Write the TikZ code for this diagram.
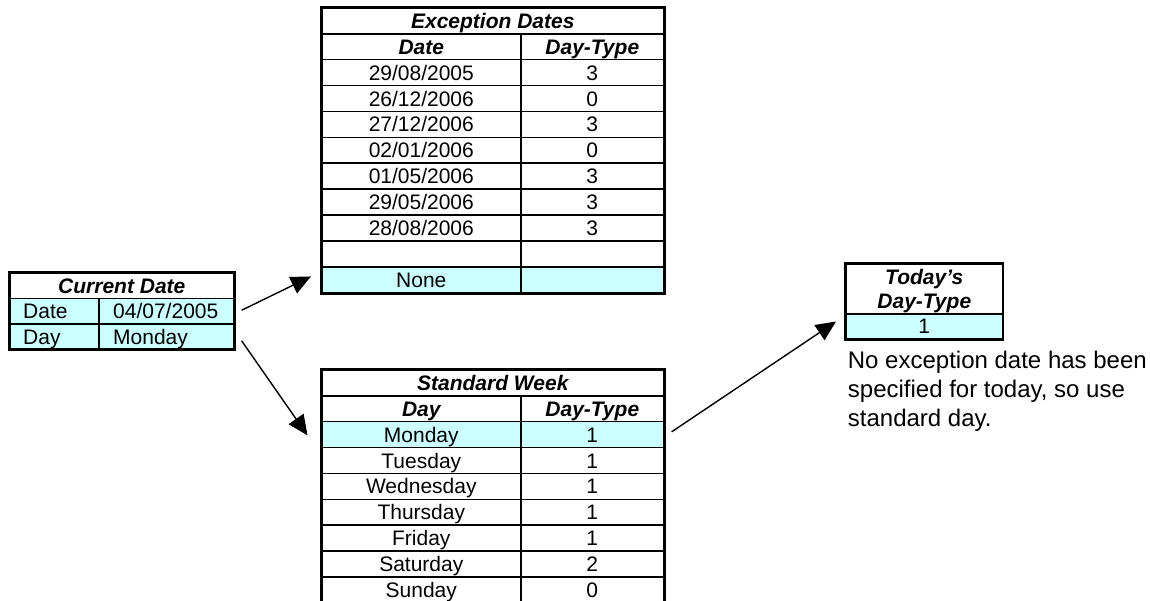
\documentclass[tikz,border=0pt]{standalone}
\usepackage{fontspec}
\setmainfont{Liberation Sans}
\usetikzlibrary{arrows.meta,calc}
\definecolor{hlcyan}{HTML}{CCFFFF}
\newcommand\tabfont{\fontsize{21}{25}\selectfont}
\tikzset{
  cellbox/.style={draw, line width=1.6pt, inner sep=0pt, anchor=north west,
    text height=15.1pt, text depth=0pt, font=\tabfont},
  hl/.style={fill=hlcyan},
  hdr/.style={font=\tabfont\bfseries\itshape},
  txt/.style={inner sep=0pt, text height=15.1pt, text depth=0pt, font=\tabfont},
  hdrtxt/.style={txt, font=\tabfont\bfseries\itshape},
  frame/.style={draw, line width=2.1pt},
  conn/.style={line width=1.4pt, -{Triangle[length=20pt,width=18pt]}},
  note/.style={inner sep=0pt, align=left, font=\fontsize{24}{29}\selectfont},
}
\begin{document}
\begin{tikzpicture}[x=1pt, y=-1pt]
\useasboundingbox (0,0) rectangle (1150,600);

% ---------- Current Date ----------
\node[cellbox, hdr, minimum width=224pt, minimum height=25.3pt] (cd-title) at (9,272.5) {Current Date};
\node[cellbox, hl, minimum width=89pt, minimum height=25.3pt] (cd-date-k) at (9,297.8) {};
\node[cellbox, hl, minimum width=135pt, minimum height=25.3pt] (cd-date-v) at (98,297.8) {};
\node[cellbox, hl, minimum width=89pt, minimum height=25.3pt] (cd-day-k) at (9,323.1) {};
\node[cellbox, hl, minimum width=135pt, minimum height=25.3pt] (cd-day-v) at (98,323.1) {};
\node[txt, anchor=west] (cd-date-kt) at ($(cd-date-k.west)+(14,0)$) {Date};
\node[txt, anchor=west] (cd-date-vt) at ($(cd-date-v.west)+(15,0)$) {04/07/2005};
\node[txt, anchor=west] (cd-day-kt) at ($(cd-day-k.west)+(14,0)$) {Day};
\node[txt, anchor=west] (cd-day-vt) at ($(cd-day-v.west)+(15,0)$) {Monday};
\draw[frame] (cd-title.north west) rectangle (cd-day-v.south east);

% ---------- Exception Dates ----------
\node[cellbox, hdr, minimum width=342pt, minimum height=25.9pt] (ex-title) at (321,7) {Exception Dates};
\node[cellbox, hdr, minimum width=199pt, minimum height=25.9pt] (ex-h-d) at (321,32.9) {Date};
\node[cellbox, hdr, minimum width=143pt, minimum height=25.9pt] (ex-h-t) at (520,32.9) {Day-Type};
\foreach \d/\t [count=\i] in {{29/08/2005}/3,{26/12/2006}/0,{27/12/2006}/3,{02/01/2006}/0,
    {01/05/2006}/3,{29/05/2006}/3,{28/08/2006}/3,{}/{}} {
  \node[cellbox, minimum width=199pt, minimum height=25.9pt] (ex-\i-d) at (321,{32.9+25.9*\i}) {\d};
  \node[cellbox, minimum width=143pt, minimum height=25.9pt] (ex-\i-t) at (520,{32.9+25.9*\i}) {\t};
}
\node[cellbox, hl, minimum width=199pt, minimum height=25.9pt] (ex-none-d) at (321,266) {None};
\node[cellbox, hl, minimum width=143pt, minimum height=25.9pt] (ex-none-t) at (520,266) {};
\draw[frame] (ex-title.north west) rectangle (ex-none-t.south east);

% ---------- Standard Week ----------
\node[cellbox, hdr, minimum width=342pt, minimum height=25.9pt] (sw-title) at (321,369) {Standard Week};
\node[cellbox, hdr, minimum width=199pt, minimum height=25.9pt] (sw-h-d) at (321,394.9) {Day};
\node[cellbox, hdr, minimum width=143pt, minimum height=25.9pt] (sw-h-t) at (520,394.9) {Day-Type};
\node[cellbox, hl, minimum width=199pt, minimum height=25.9pt] (sw-1-d) at (321,420.8) {Monday};
\node[cellbox, hl, minimum width=143pt, minimum height=25.9pt] (sw-1-t) at (520,420.8) {1};
\foreach \d/\t [count=\i from 2] in {Tuesday/1,Wednesday/1,Thursday/1,Friday/1,Saturday/2,Sunday/0} {
  \node[cellbox, minimum width=199pt, minimum height=25.9pt] (sw-\i-d) at (321,{394.9+25.9*\i}) {\d};
  \node[cellbox, minimum width=143pt, minimum height=25.9pt] (sw-\i-t) at (520,{394.9+25.9*\i}) {\t};
}
\draw[frame] (sw-title.north west) rectangle (sw-7-t.south east);

% ---------- Today's Day-Type ----------
\node[cellbox, minimum width=156pt, minimum height=50pt] (td-title) at (845.5,263) {};
\node[hdrtxt] (td-l1) at ($(td-title.center)+(0,-11.5)$) {Today’s};
\node[hdrtxt] (td-l2) at ($(td-title.center)+(0,12.5)$) {Day-Type};
\node[cellbox, hl, minimum width=156pt, minimum height=25pt] (td-val) at (845.5,313) {1};
\draw[frame] (td-title.north west) rectangle (td-val.south east);

\node[note, anchor=north west] (note) at (847.7,351) {No exception date has been\\specified for today, so use\\standard day.};

% ---------- Connectors ----------
\coordinate (a1s) at ($(cd-date-v.east)+(7,-1)$);
\coordinate (a1e) at ($(ex-none-d.west)+(-10,-3.3)$);
\coordinate (a2s) at ($(cd-day-v.east)+(7,4.2)$);
\coordinate (a2e) at ($(sw-1-d.west)+(-13.5,0.8)$);
\coordinate (a3s) at ($(sw-1-t.east)+(7,-2.7)$);
\coordinate (a3e) at ($(td-val.west)+(-9.5,-4.8)$);
\draw[conn] (a1s) -- (a1e);
\draw[conn] (a2s) -- (a2e);
\draw[conn] (a3s) -- (a3e);
\end{tikzpicture}
\end{document}
